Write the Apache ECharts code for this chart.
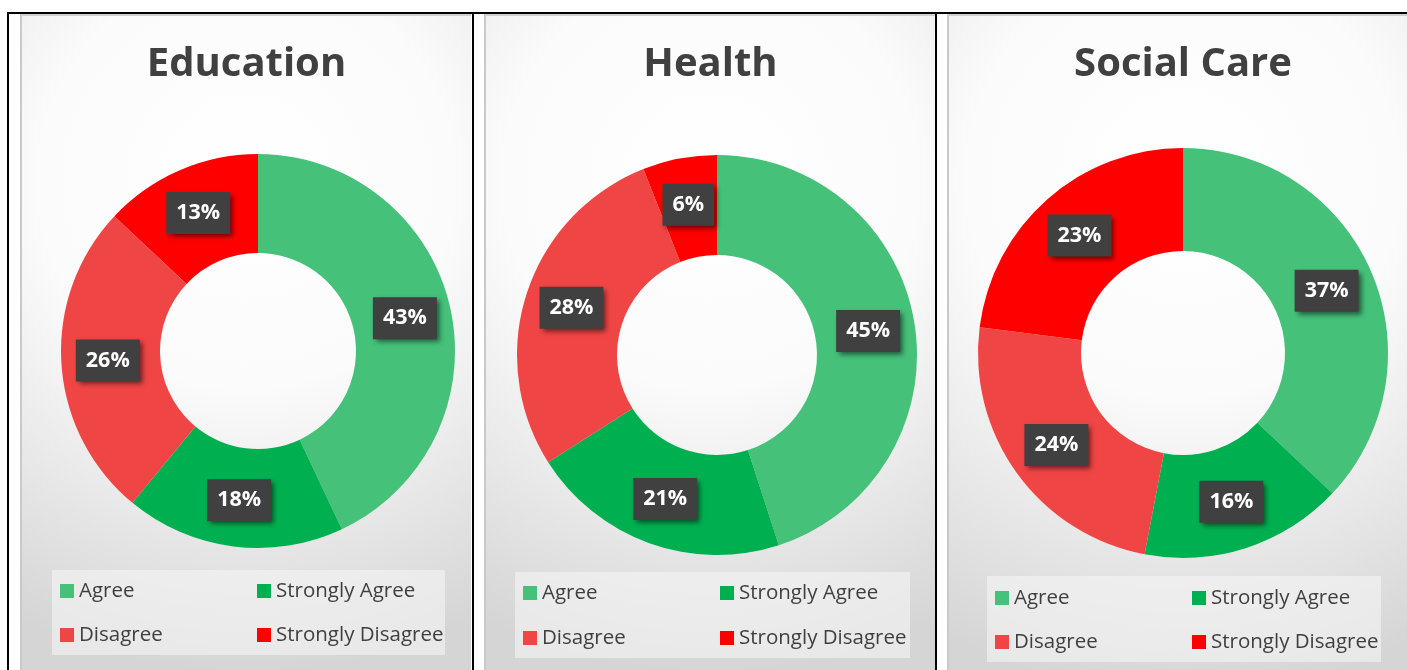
<!DOCTYPE html>
<html>
<head>
<meta charset="utf-8">
<script src="https://cdn.jsdelivr.net/npm/echarts@6/dist/echarts.min.js"></script>
<style>
    body { margin: 0; background: #fff; width: 1407px; height: 670px; overflow: hidden; position: relative; }
    .line { position: absolute; background: #000; }
    .panel { position: absolute; top: 14px; height: 660px; border-left: 2px solid #c9c9c9; border-top: 2px solid #d0d0d0; box-sizing: border-box; }
</style>
</head>
<body>
<div class="line" style="left:7px;top:12px;width:1400px;height:2px"></div>
<div class="line" style="left:7px;top:12px;width:2px;height:660px"></div>
<div class="line" style="left:472px;top:12px;width:2px;height:660px"></div>
<div class="line" style="left:935px;top:12px;width:2px;height:660px"></div>

<div class="panel" id="edu" style="left:20px;width:451px"></div>
<div class="panel" id="health" style="left:484px;width:451px"></div>
<div class="panel" id="social" style="left:947px;width:470px"></div>

<script>
// categories + colours
let categories = ['Agree', 'Strongly Agree', 'Disagree', 'Strongly Disagree'];
let colors = ['#45c17a', '#00b050', '#f04545', '#ff0000'];

// percent values
let education = [43, 18, 26, 13];
let health = [45, 21, 28, 6];
let social_care = [37, 16, 24, 23];

function makeChart(id, title, values, center, radius, legend_pos, box) {
    var myChart = echarts.init(document.getElementById(id));
    let d1 = [];
    values.forEach(function (v, i) {
        d1.push({ name: categories[i], value: v, itemStyle: { color: colors[i] } });
    });
    let legend_text = { fontFamily: 'Open Sans', fontSize: 20.5, color: '#3f3f3f', lineHeight: 22 };

    var option = {
        backgroundColor: {
            type: 'radial', x: 0.5, y: 0.25, r: 1.1,
            colorStops: [{ offset: 0, color: '#ffffff' }, { offset: 0.42, color: '#fbfbfb' }, { offset: 1, color: '#d5d5d5' }]
        },
        title: {
            text: title,
            left: 'center',
            top: 24,
            textStyle: { fontFamily: 'Open Sans', fontWeight: 'bold', fontSize: 40, color: '#404040' }
        },
        graphic: [{
            type: 'rect',
            shape: { x: box[0], y: box[1], width: box[2], height: box[3] },
            style: { fill: 'rgba(245,245,245,0.6)' },
            z: -1
        }],
        legend: [
            {
                data: [categories[0], categories[2]], orient: 'vertical',
                left: legend_pos[0], top: legend_pos[2], itemGap: legend_pos[3],
                itemWidth: 14, itemHeight: 14, icon: 'rect', textStyle: legend_text
            },
            {
                data: [categories[1], categories[3]], orient: 'vertical',
                left: legend_pos[1], top: legend_pos[2], itemGap: legend_pos[3],
                itemWidth: 14, itemHeight: 14, icon: 'rect', textStyle: legend_text
            }
        ],
        series: [{
            type: 'pie',
            center: center,
            radius: radius,
            startAngle: 90,
            clockwise: true,
            animation: false,
            data: d1,
            labelLine: { show: false },
            label: {
                show: true,
                position: 'inside',
                formatter: '{c}%',
                color: '#fff',
                fontFamily: 'Open Sans',
                fontWeight: 'bold',
                fontSize: 21.5,
                lineHeight: 25,
                backgroundColor: '#404040',
                padding: [9, 10, 8, 10],
                shadowColor: 'rgba(0,0,0,0.55)',
                shadowBlur: 5,
                shadowOffsetX: 3,
                shadowOffsetY: 3
            },
            emphasis: { disabled: true }
        }]
    };
    myChart.setOption(option);
}

makeChart('edu', 'Education', education, [236, 335], [98, 197], [33, 230, 559, 22], [30, 554, 393, 85]);
makeChart('health', 'Health', health, [231, 339], [100, 200], [32, 229, 561, 23], [29, 556, 395, 86]);
makeChart('social', 'Social Care', social_care, [234, 337], [102, 205], [41, 238, 566, 22], [38, 560, 394, 86]);
</script>
</body>
</html>
